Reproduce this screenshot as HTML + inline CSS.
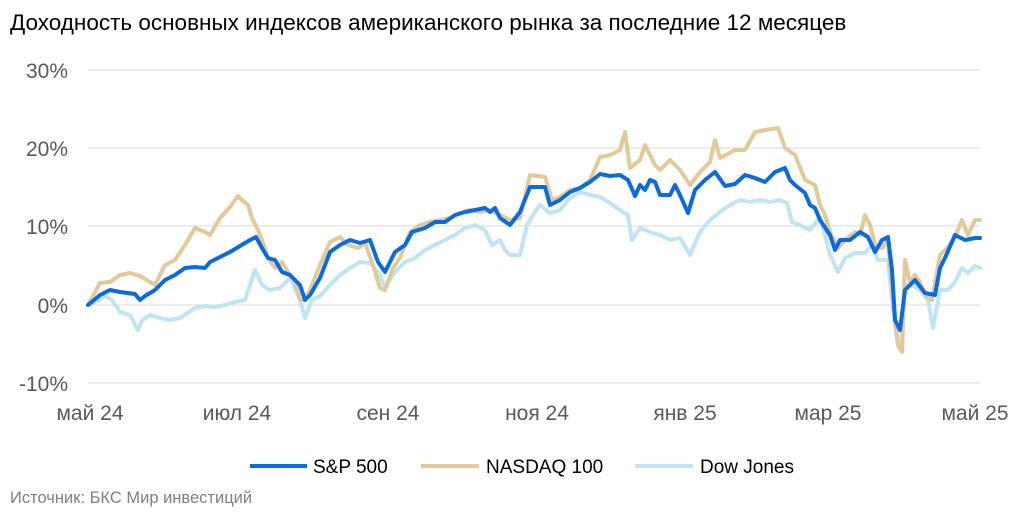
<!DOCTYPE html>
<html><head><meta charset="utf-8"><style>
body{margin:0;background:#fff;}
svg text{font-family:"Liberation Sans",sans-serif;}
</style></head><body>
<svg width="1024" height="517" xmlns="http://www.w3.org/2000/svg">
<text x="10" y="30" font-size="22.5" fill="#000">Доходность основных индексов американского рынка за последние 12 месяцев</text>
<g stroke="#d9d9d9" stroke-width="1">
<line x1="88" y1="70" x2="980" y2="70"/>
<line x1="88" y1="148" x2="980" y2="148"/>
<line x1="88" y1="226" x2="980" y2="226"/>
<line x1="88" y1="305" x2="980" y2="305"/>
<line x1="88" y1="383" x2="980" y2="383"/>
</g>
<g font-size="21" fill="#595959" text-anchor="end">
<text x="68" y="78">30%</text>
<text x="68" y="156">20%</text>
<text x="68" y="234">10%</text>
<text x="68" y="313">0%</text>
<text x="68" y="391">-10%</text>
</g>
<g font-size="21" fill="#595959" text-anchor="middle">
<text x="90" y="420">май 24</text>
<text x="237" y="420">июл 24</text>
<text x="388" y="420">сен 24</text>
<text x="537" y="420">ноя 24</text>
<text x="685" y="420">янв 25</text>
<text x="828" y="420">мар 25</text>
<text x="975" y="420">май 25</text>
</g>
<g fill="none" stroke-width="4" stroke-linejoin="round" stroke-linecap="round">
<polyline stroke="#bfe4f3" points="88,305 95,302 105,296 112,300 120,312 130,315 138,330 142,320 150,315 160,318 170,320 180,318 195,308 205,306 215,307 225,305 235,302 245,300 255,270 262,285 270,290 280,288 290,278 300,300 305,318 312,300 320,296 330,285 340,275 350,268 360,262 370,263 380,275 385,287 395,272 405,262 415,258 425,250 435,245 445,240 455,235 465,228 475,225 485,230 492,245 500,240 505,250 510,255 520,255 527,225 535,212 540,205 550,213 560,210 570,198 580,192 590,195 600,197 610,203 620,210 628,215 632,240 640,228 650,232 660,235 670,240 680,238 690,255 700,232 710,220 720,212 730,205 740,200 750,202 760,200 770,202 780,200 787,203 792,222 800,225 810,230 820,217 825,235 830,255 838,272 845,258 855,253 865,253 872,245 878,260 888,260 893,310 898,345 902,340 905,285 912,285 920,290 928,300 933,328 940,290 948,290 955,282 962,268 968,273 975,266 980,268"/>
<polyline stroke="#e2c998" points="88,305 100,283 110,282 120,275 130,273 140,276 150,282 155,285 165,265 175,260 185,245 195,228 205,232 210,235 220,218 230,207 238,196 242,200 248,205 252,218 258,230 262,240 268,258 275,268 282,262 288,272 295,282 300,300 305,300 310,290 320,265 330,242 340,237 348,245 358,248 365,243 372,262 380,288 385,290 393,268 400,258 410,232 420,225 430,222 440,220 450,218 460,213 470,210 480,212 490,210 500,215 510,220 520,218 530,175 545,177 552,200 560,197 570,190 580,188 590,180 600,157 610,155 620,150 625,132 630,168 640,160 645,145 655,165 660,170 670,160 680,170 690,185 700,172 710,162 715,140 720,158 735,150 745,150 755,132 765,130 778,128 785,148 795,155 805,180 815,185 820,205 825,215 830,232 838,248 845,240 855,232 860,235 865,215 870,225 875,245 882,248 888,240 893,300 898,345 902,352 905,260 910,282 915,275 920,282 925,295 932,300 940,255 948,247 955,237 962,220 968,235 975,220 980,220"/>
<polyline stroke="#0a6be0" points="88,305 100,295 110,290 120,292 135,294 140,300 145,296 155,290 165,280 175,275 185,268 195,267 205,268 210,262 220,257 230,252 240,246 250,240 256,237 262,248 268,258 275,260 282,272 290,275 300,285 305,300 310,295 320,278 330,252 340,245 350,240 360,243 370,240 378,262 385,272 395,252 405,245 412,232 425,228 435,222 445,222 455,215 465,212 475,210 485,208 490,212 495,208 500,218 510,225 520,212 530,187 545,187 550,205 560,200 570,192 580,188 590,182 600,174 610,176 620,175 628,180 635,196 640,185 645,190 650,180 655,182 660,195 670,195 675,185 680,195 688,213 695,190 705,180 715,172 725,186 735,184 745,175 755,178 765,182 775,172 785,168 790,180 795,185 805,193 810,205 815,208 820,220 830,235 835,250 840,240 850,240 860,232 868,237 875,252 882,240 888,237 892,270 895,320 900,330 905,290 910,285 915,280 925,293 935,295 940,268 945,258 955,235 965,240 975,238 980,238"/>
</g>
<g stroke-width="4">
<line x1="250" y1="466" x2="307" y2="466" stroke="#0a6be0"/>
<line x1="421" y1="466" x2="479" y2="466" stroke="#e2c998"/>
<line x1="635" y1="466" x2="693" y2="466" stroke="#bfe4f3"/>
</g>
<g font-size="19" fill="#000">
<text x="313" y="473">S&amp;P 500</text>
<text x="486" y="473">NASDAQ 100</text>
<text x="700" y="473">Dow Jones</text>
</g>
<text x="10" y="503" font-size="16.5" fill="#808080">Источник: БКС Мир инвестиций</text>
</svg>
</body></html>
